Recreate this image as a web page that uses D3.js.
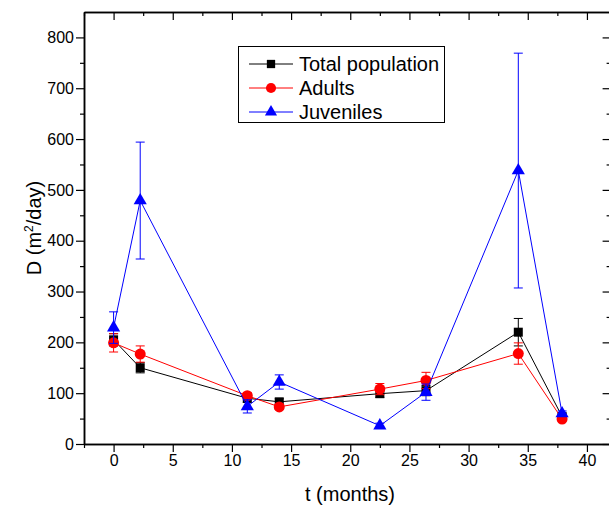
<!DOCTYPE html>
<html>
<head>
<meta charset="utf-8">
<script src="https://cdn.jsdelivr.net/npm/d3@7"></script>
<style>
  body { margin: 0; background: #fff; }
  svg { display: block; font-family: "Liberation Sans", Arial, sans-serif; }
</style>
</head>
<body>
<div id="chart"></div>
<script>
// sampling times (months)
const months = [0, 2.25, 11.3, 14, 22.5, 26.4, 34.2, 37.9];

// diffusion coefficient D (m^2/day) with error bars
const totalD = [205, 150, 90, 83, 99, 105, 220, 54];
const totalErr = [12, 10, 8, 6, 7, 10, 27, 5];
const adultsD = [199, 177, 95, 73, 108, 125, 178, 49];
const adultsErr = [18, 16, 6, 5, 11, 16, 21, 4];
const juvenilesD = [229, 479, 74, 122, 36, 102, 538, 60];
const juvenilesErr = [31, 115, 13, 14, 5, 16, 231, 5];

const xTicks = [0, 5, 10, 15, 20, 25, 30, 35, 40];
const xMinorTicks = [-2.5, 2.5, 7.5, 12.5, 17.5, 22.5, 27.5, 32.5, 37.5];
const yTicks = [0, 100, 200, 300, 400, 500, 600, 700, 800];
const yMinorTicks = [50, 150, 250, 350, 450, 550, 650, 750];

const series = [
    { name: "Total population", values: totalD, errs: totalErr, color: "#000000", symbol: d3.symbolSquare, size: 81 },
    { name: "Adults", values: adultsD, errs: adultsErr, color: "#ff0000", symbol: d3.symbolCircle, size: 95 },
    { name: "Juveniles", values: juvenilesD, errs: juvenilesErr, color: "#0000ff", symbol: d3.symbolTriangle, size: 75 }
];

const width = 609, height = 507;
const plot = { left: 84, top: 12, right: 610.6, bottom: 444 };
const fontFamily = "'Liberation Sans', Arial, sans-serif";

const svg = d3.select("#chart").append("svg")
    .attr("width", width)
    .attr("height", height);

const x = d3.scaleLinear().domain([-2.5, 42]).range([plot.left, plot.right]);
const y = d3.scaleLinear().domain([0, 850]).range([plot.bottom, plot.top]);

// axes: left/bottom ticks out, top/right ticks in
function styleAxis(g) {
    g.attr("font-size", 16).attr("font-family", fontFamily);
    g.selectAll("path").attr("stroke", "#000").attr("stroke-width", 1.5);
    g.selectAll("line").attr("stroke", "#000").attr("stroke-width", 1.2);
    g.selectAll("text").attr("fill", "#000");
}

svg.append("g")
    .attr("transform", `translate(0,${plot.bottom})`)
    .call(d3.axisBottom(x).tickValues(xMinorTicks).tickSize(4).tickFormat("").tickSizeOuter(0))
    .call(styleAxis);
svg.append("g")
    .attr("transform", `translate(0,${plot.bottom})`)
    .call(d3.axisBottom(x).tickValues(xTicks).tickSize(8).tickPadding(3).tickSizeOuter(0))
    .call(styleAxis);

svg.append("g")
    .attr("transform", `translate(0,${plot.top})`)
    .call(d3.axisBottom(x).tickValues(xMinorTicks).tickSize(4).tickFormat("").tickSizeOuter(0))
    .call(styleAxis);
svg.append("g")
    .attr("transform", `translate(0,${plot.top})`)
    .call(d3.axisBottom(x).tickValues(xTicks).tickSize(8).tickFormat("").tickSizeOuter(0))
    .call(styleAxis);

svg.append("g")
    .attr("transform", `translate(${plot.left},0)`)
    .call(d3.axisLeft(y).tickValues(yMinorTicks).tickSize(4).tickFormat("").tickSizeOuter(0))
    .call(styleAxis);
svg.append("g")
    .attr("transform", `translate(${plot.left},0)`)
    .call(d3.axisLeft(y).tickValues(yTicks).tickSize(8).tickPadding(2).tickSizeOuter(0))
    .call(styleAxis);

svg.append("g")
    .attr("transform", `translate(${plot.right},0)`)
    .call(d3.axisLeft(y).tickValues(yMinorTicks).tickSize(4).tickFormat("").tickSizeOuter(0))
    .call(styleAxis);
svg.append("g")
    .attr("transform", `translate(${plot.right},0)`)
    .call(d3.axisLeft(y).tickValues(yTicks).tickSize(8).tickFormat("").tickSizeOuter(0))
    .call(styleAxis);

// axis titles
svg.append("text")
    .attr("x", 350)
    .attr("y", 501)
    .attr("text-anchor", "middle")
    .attr("font-size", "20px")
    .attr("font-family", fontFamily)
    .text("t (months)");

const yTitle = svg.append("text")
    .attr("transform", `translate(41,${(plot.top + plot.bottom) / 2}) rotate(-90)`)
    .attr("text-anchor", "middle")
    .attr("font-size", "20px")
    .attr("font-family", fontFamily);
yTitle.append("tspan").text("D (m");
yTitle.append("tspan").attr("font-size", "12px").attr("dy", -8).text("2");
yTitle.append("tspan").attr("dy", 8).text("/day)");

// series: lines, error bars, markers
const line = d3.line().x((d, i) => x(months[i])).y(d => y(d));
const cap = 4.5;

series.forEach(s => {
    const g = svg.append("g");

    g.append("path")
        .datum(s.values)
        .attr("d", line)
        .attr("fill", "none")
        .attr("stroke", s.color)
        .attr("stroke-width", 1);

    const eb = g.append("g")
        .selectAll("g")
        .data(s.values.map((v, i) => ({ x: months[i], v, e: s.errs[i] })))
        .enter()
        .append("g")
        .attr("stroke", s.color)
        .attr("stroke-width", 1);
    eb.append("line")
        .attr("x1", d => x(d.x)).attr("x2", d => x(d.x))
        .attr("y1", d => y(d.v + d.e)).attr("y2", d => y(d.v - d.e));
    eb.append("line")
        .attr("x1", d => x(d.x) - cap).attr("x2", d => x(d.x) + cap)
        .attr("y1", d => y(d.v + d.e)).attr("y2", d => y(d.v + d.e));
    eb.append("line")
        .attr("x1", d => x(d.x) - cap).attr("x2", d => x(d.x) + cap)
        .attr("y1", d => y(d.v - d.e)).attr("y2", d => y(d.v - d.e));

    g.append("g")
        .selectAll("path")
        .data(s.values)
        .enter()
        .append("path")
        .attr("transform", (d, i) => `translate(${x(months[i])},${y(d)})`)
        .attr("d", d3.symbol().type(s.symbol).size(s.size))
        .attr("fill", s.color);
});

// legend
const legend = svg.append("g");
legend.append("rect")
    .attr("x", 238.5).attr("y", 46.5)
    .attr("width", 206).attr("height", 76)
    .attr("fill", "#fff")
    .attr("stroke", "#000")
    .attr("stroke-width", 1);

const rows = legend.selectAll("g.row")
    .data(series)
    .enter()
    .append("g")
    .attr("class", "row")
    .attr("transform", (d, i) => `translate(0,${64 + i * 24})`);
rows.append("line")
    .attr("x1", 249).attr("x2", 293)
    .attr("stroke", d => d.color)
    .attr("stroke-width", 1);
rows.append("path")
    .attr("transform", "translate(271,0)")
    .attr("d", d => d3.symbol().type(d.symbol).size(d.size * 0.85)())
    .attr("fill", d => d.color);
rows.append("text")
    .attr("x", 299)
    .attr("dy", "0.35em")
    .attr("font-size", "20px")
    .attr("font-family", fontFamily)
    .text(d => d.name);
</script>
</body>
</html>
